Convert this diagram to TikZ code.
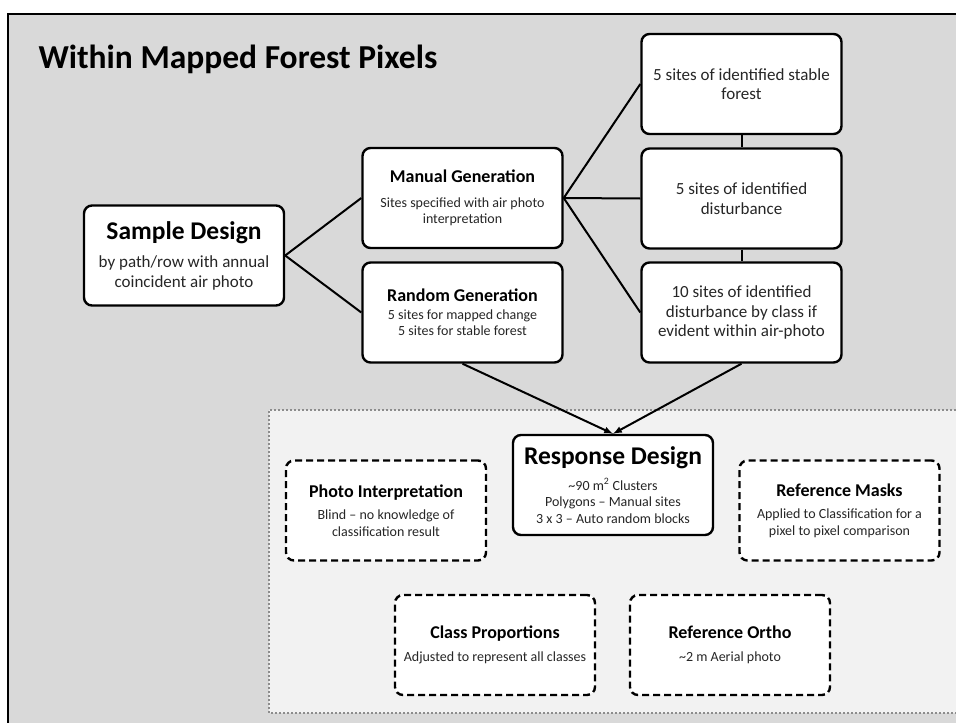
\documentclass[tikz,border=0pt]{standalone}
\usepackage{fontspec}
\setmainfont{Carlito}
\usepackage{xcolor}
\usepackage{tikz}
\usetikzlibrary{arrows.meta, positioning}

\definecolor{framegray}{HTML}{D9D9D9}
\definecolor{panelgray}{HTML}{F2F2F2}
\definecolor{dotgray}{HTML}{8C8C8C}
\definecolor{bodytext}{HTML}{262626}

\newcommand{\bighead}{\fontsize{25.5}{30}\selectfont\bfseries\color{black}}
\newcommand{\boxhead}{\fontsize{18}{22}\selectfont\bfseries\color{black}}
\newcommand{\midtext}{\fontsize{17}{19.5}\selectfont}
\newcommand{\smalltext}{\fontsize{14}{16.5}\selectfont}

\begin{document}
\begin{tikzpicture}[x=1pt, y=-1pt, >=latex, font=\midtext]
\tikzstyle{round} = [draw=black, line width=2.4pt, rounded corners=8pt, fill=white, align=center, text=bodytext, minimum width=200pt, minimum height=100pt, inner sep=2pt]
\tikzstyle{dashround} = [round, dash pattern=on 7pt off 4pt]
\tikzstyle{small} = [font=\smalltext]
\tikzstyle{invis} = [draw=none]

\useasboundingbox (0, 0) rectangle (956, 723);
\fill[framegray] (8, 14) rectangle (960, 727);
\draw[line width=2pt] (8, 727) -- (8, 14) -- (960, 14);
\fill[panelgray] (269, 410) rectangle (960, 713);
\draw[dotgray, line width=2pt, dash pattern=on 2pt off 2pt] (960, 410) -- (269, 410) -- (269, 713) -- (960, 713);

\node[invis, anchor=base west]	at (35, 68)		(title)		{\fontsize{33.5}{38}\selectfont\bfseries Within Mapped Forest Pixels};

\node[round]			at (184, 255.5)		(sample)	{\bighead Sample Design\\[9pt] by path/row with annual\\ coincident air photo};
\node[round, small]		at (462.5, 198)		(manual)	{\boxhead Manual Generation\\[8pt] Sites specified with air photo\\ interpretation};
\node[round, small]		at (462.5, 312.5)	(random)	{\boxhead Random Generation\\[1pt] 5 sites for mapped change\\ 5 sites for stable forest};
\node[round]			at (741.5, 84)		(stable)	{5 sites of identified stable\\ forest};
\node[round]			at (741.5, 198.5)	(disturb)	{5 sites of identified\\ disturbance};
\node[round]			at (741.5, 312.5)	(byclass)	{10 sites of identified\\ disturbance by class if\\ evident within air-photo};
\node[round, small]		at (613, 485)		(response)	{\bighead Response Design\\[9pt] \textasciitilde90 m\textsuperscript{2} Clusters\\ Polygons -- Manual sites\\ 3 x 3 -- Auto random blocks};
\node[dashround, small]	at (386, 510.5)		(photo)		{\boxhead Photo Interpretation\\[6pt] Blind -- no knowledge of\\ classification result};
\node[dashround, small]	at (839.5, 510.5)	(masks)		{\boxhead Reference Masks\\[6pt] Applied to Classification for a\\ pixel to pixel comparison};
\node[dashround, small]	at (495, 645)		(classprop)	{\boxhead Class Proportions\\[6pt] Adjusted to represent all classes};
\node[dashround, small]	at (730, 645)		(ortho)		{\boxhead Reference Ortho\\[6pt] \textasciitilde2 m Aerial photo};

\path[line width=2pt]
(sample.east)	edge	(manual.west)
(sample.east)	edge	(random.west)
(manual.east)	edge	(stable.west)
(manual.east)	edge	(disturb.west)
(manual.east)	edge	(byclass.west)
(stable.south)	edge	(disturb.north)
(disturb.south)	edge	(byclass.north);

\path[->, line width=2pt]
(random.south)	edge	(response.north)
(byclass.south)	edge	(response.north);
\end{tikzpicture}
\end{document}
